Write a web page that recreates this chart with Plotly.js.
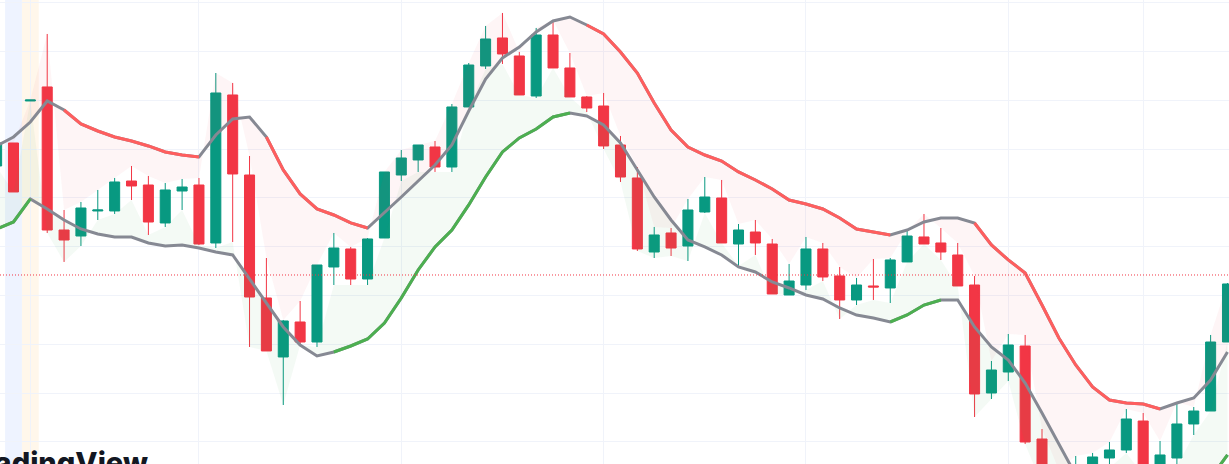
<!DOCTYPE html>
<html>
<head>
<meta charset="utf-8">
<script src="https://cdn.plot.ly/plotly-3.0.1.min.js"></script>
<style>
  html, body { margin: 0; padding: 0; background: #ffffff; }
  #chart { width: 1229px; height: 464px; }
</style>
</head>
<body>
<div id="chart"></div>
<script>
// Bars, first one (index -1) partially cut at the left edge
const opens = [156.56,161.27,169.88,172.75,143.44,142.21,147.34,147.34,153.48,152.66,144.88,151.43,152.66,140.78,171.11,154.71,129.51,117.42,124.59,120.49,135.86,139.55,133.40,141.80,154.71,157.79,160.45,156.35,168.65,177.05,182.79,179.10,170.90,183.40,176.64,170.70,168.85,160.86,154.10,138.93,142.83,140.16,147.13,150.00,140.57,143.03,140.57,130.12,132.17,139.55,134.02,129.10,131.97,131.56,136.89,142.01,140.78,138.32,132.17,110.04,114.34,119.67,100.61,90.16,91.19,94.26,96.72,98.36,104.30,94.67,96.72,103.69,106.35,120.49];
const highs = [161.48,161.27,170.08,183.61,147.54,149.18,151.64,154.10,156.56,154.51,153.07,153.89,154.10,175.61,173.57,158.61,137.70,125.00,128.89,136.27,142.83,139.96,141.80,155.33,159.84,160.86,161.68,169.26,177.66,185.25,187.91,179.92,184.84,186.48,179.71,170.90,171.52,162.71,156.35,144.06,143.85,149.80,154.30,153.69,144.67,145.49,141.60,136.48,142.01,140.78,135.86,133.61,137.50,137.70,143.24,146.72,143.85,140.78,134.02,116.60,122.13,121.93,102.66,94.26,97.13,97.75,100.00,106.76,105.94,100.20,108.20,107.17,121.93,132.58];
const lows = [156.35,151.23,169.88,142.83,136.89,140.16,145.49,146.72,149.59,142.42,144.06,147.54,140.37,139.75,140.98,119.47,118.65,107.58,119.88,119.47,132.17,132.17,132.17,141.80,153.48,155.33,155.33,155.33,168.65,176.43,177.46,171.11,170.49,176.64,170.70,167.62,160.04,153.28,139.14,137.70,138.11,137.09,146.93,140.78,136.07,138.32,130.33,130.12,131.15,132.99,125.20,128.07,129.10,128.48,136.89,140.57,137.30,131.97,105.12,108.81,112.50,99.59,91.19,89.14,90.16,93.44,94.67,97.75,93.24,93.85,95.08,101.43,106.35,120.49];
const closes = [161.27,151.23,170.08,143.44,141.39,147.95,147.54,153.28,152.46,145.08,151.64,152.25,140.57,171.52,154.92,129.71,118.65,124.80,120.49,136.27,139.75,133.40,141.60,155.33,158.20,160.86,156.35,168.65,177.25,182.58,179.51,171.11,183.40,176.64,170.70,168.44,160.66,154.30,139.55,142.42,139.75,147.54,150.20,140.78,143.44,140.78,130.33,132.99,139.55,133.81,129.10,132.17,131.76,137.30,142.21,140.57,138.93,131.97,109.84,114.75,119.88,100.00,92.62,92.62,94.67,96.93,98.36,104.71,94.26,97.34,103.69,106.35,120.49,132.38];

// Channel lines
const upperBand = [160.66,162.50,165.57,169.88,168.03,165.16,163.73,162.50,161.68,160.66,159.43,158.81,158.40,162.91,166.19,166.60,162.50,155.74,150.82,147.75,146.52,144.88,143.85,146.93,150.20,153.48,156.76,160.86,167.83,174.39,178.69,180.94,184.02,186.27,187.09,185.45,183.61,179.92,175.61,169.47,163.93,160.45,158.81,157.58,155.33,153.69,151.84,149.59,148.77,147.75,145.90,143.65,143.03,142.42,143.44,145.08,145.90,145.90,144.88,140.37,137.30,134.63,128.07,121.31,115.78,111.27,108.61,107.99,107.79,106.76,107.99,109.02,112.70,118.44];
const lowerBand = [143.65,145.08,149.80,147.75,145.49,143.65,142.62,142.01,142.01,140.78,140.16,140.37,139.75,138.93,138.32,133.40,128.48,123.57,119.88,117.62,118.44,119.67,121.11,124.39,129.51,135.25,139.96,143.44,148.57,154.30,159.43,162.30,164.14,166.60,167.42,166.80,164.96,161.27,155.74,150.20,145.49,141.39,139.96,138.32,135.86,134.84,132.79,131.56,130.12,129.30,127.46,126.02,125.41,124.59,126.02,128.07,129.10,129.10,123.57,119.47,116.80,112.09,105.94,99.39,93.24,89.14,87.09,86.07,85.66,86.07,87.09,89.14,92.62,97.34];

// Bar ranges (bar numbers, first bar = -1) where each line takes its trend colour
const upperRedRanges = [[3, 11], [15, 21], [34, 52], [57, 68]];
const lowerGreenRanges = [[-1, 1], [19, 33], [52, 55], [71, 72]];

const lastPrice = 134.22;
const sessionBars = [0, 1];
const gridBars = [1, 11, 23, 35, 47, 59, 67];

const bars = closes.map((_, i) => i - 1);
function onlyIn(vals, ranges) {
  return vals.map((v, i) => ranges.some(r => bars[i] >= r[0] && bars[i] <= r[1]) ? v : null);
}

const traces = [
  { x: bars, y: highs, mode: 'lines', line: { width: 0 }, hoverinfo: 'skip' },
  { x: bars, y: upperBand, mode: 'lines', line: { width: 0 }, fill: 'tonexty', fillcolor: 'rgba(242,54,69,0.05)', hoverinfo: 'skip' },
  { x: bars, y: lows, mode: 'lines', line: { width: 0 }, hoverinfo: 'skip' },
  { x: bars, y: lowerBand, mode: 'lines', line: { width: 0 }, fill: 'tonexty', fillcolor: 'rgba(76,175,80,0.06)', hoverinfo: 'skip' },
  { x: bars, y: upperBand, mode: 'lines', line: { color: '#868993', width: 3 }, hoverinfo: 'skip' },
  { x: bars, y: lowerBand, mode: 'lines', line: { color: '#868993', width: 3 }, hoverinfo: 'skip' },
  { x: bars, y: onlyIn(upperBand, upperRedRanges), mode: 'lines', connectgaps: false, line: { color: '#FF5E5E', width: 3 }, hoverinfo: 'skip' },
  { x: bars, y: onlyIn(lowerBand, lowerGreenRanges), mode: 'lines', connectgaps: false, line: { color: '#4CAF50', width: 3 }, hoverinfo: 'skip' },
  {
    type: 'candlestick', x: bars, open: opens, high: highs, low: lows, close: closes,
    increasing: { line: { color: '#089981', width: 1 }, fillcolor: '#089981' },
    decreasing: { line: { color: '#F23645', width: 1 }, fillcolor: '#F23645' },
    whiskerwidth: 0, hoverinfo: 'skip'
  }
];

const colorsSession = ['rgba(41,98,255,0.08)', 'rgba(255,152,0,0.08)'];
const shapes = sessionBars.map((b, i) => ({
  type: 'rect', xref: 'x', yref: 'paper', x0: b - 0.5, x1: b + 0.5, y0: 0, y1: 1,
  fillcolor: colorsSession[i], line: { width: 0 }, layer: 'below'
}));
shapes.push({
  type: 'line', xref: 'paper', yref: 'y', x0: 0, x1: 1, y0: lastPrice, y1: lastPrice,
  line: { color: '#F23645', width: 1, dash: '1px,2px' }
});

const layout = {
  width: 1229, height: 464,
  margin: { l: 0, r: 0, t: 0, b: 0, pad: 0 },
  paper_bgcolor: '#ffffff', plot_bgcolor: '#ffffff',
  showlegend: false,
  boxgap: 0.15,
  xaxis: {
    range: [-0.80, 72.09], showticklabels: false, ticks: '', zeroline: false,
    showgrid: true, tickmode: 'array', tickvals: gridBars, gridcolor: '#F0F3FA', gridwidth: 1,
    rangeslider: { visible: false }, fixedrange: true
  },
  yaxis: {
    range: [95.49, 190.57], showticklabels: false, ticks: '', zeroline: false,
    showgrid: true, tick0: 100, dtick: 10, gridcolor: '#F0F3FA', gridwidth: 1, fixedrange: true
  },
  shapes: shapes,
  annotations: [{
    text: 'TradingView', xref: 'paper', yref: 'paper', x: 150 / 1229, y: 0.046,
    xanchor: 'right', yanchor: 'top', showarrow: false,
    font: { family: 'Inter, "Open Sans", sans-serif', size: 29, weight: 800, color: '#131722' }
  }]
};

Plotly.newPlot('chart', traces, layout, { staticPlot: true, displayModeBar: false });
</script>
</body>
</html>
